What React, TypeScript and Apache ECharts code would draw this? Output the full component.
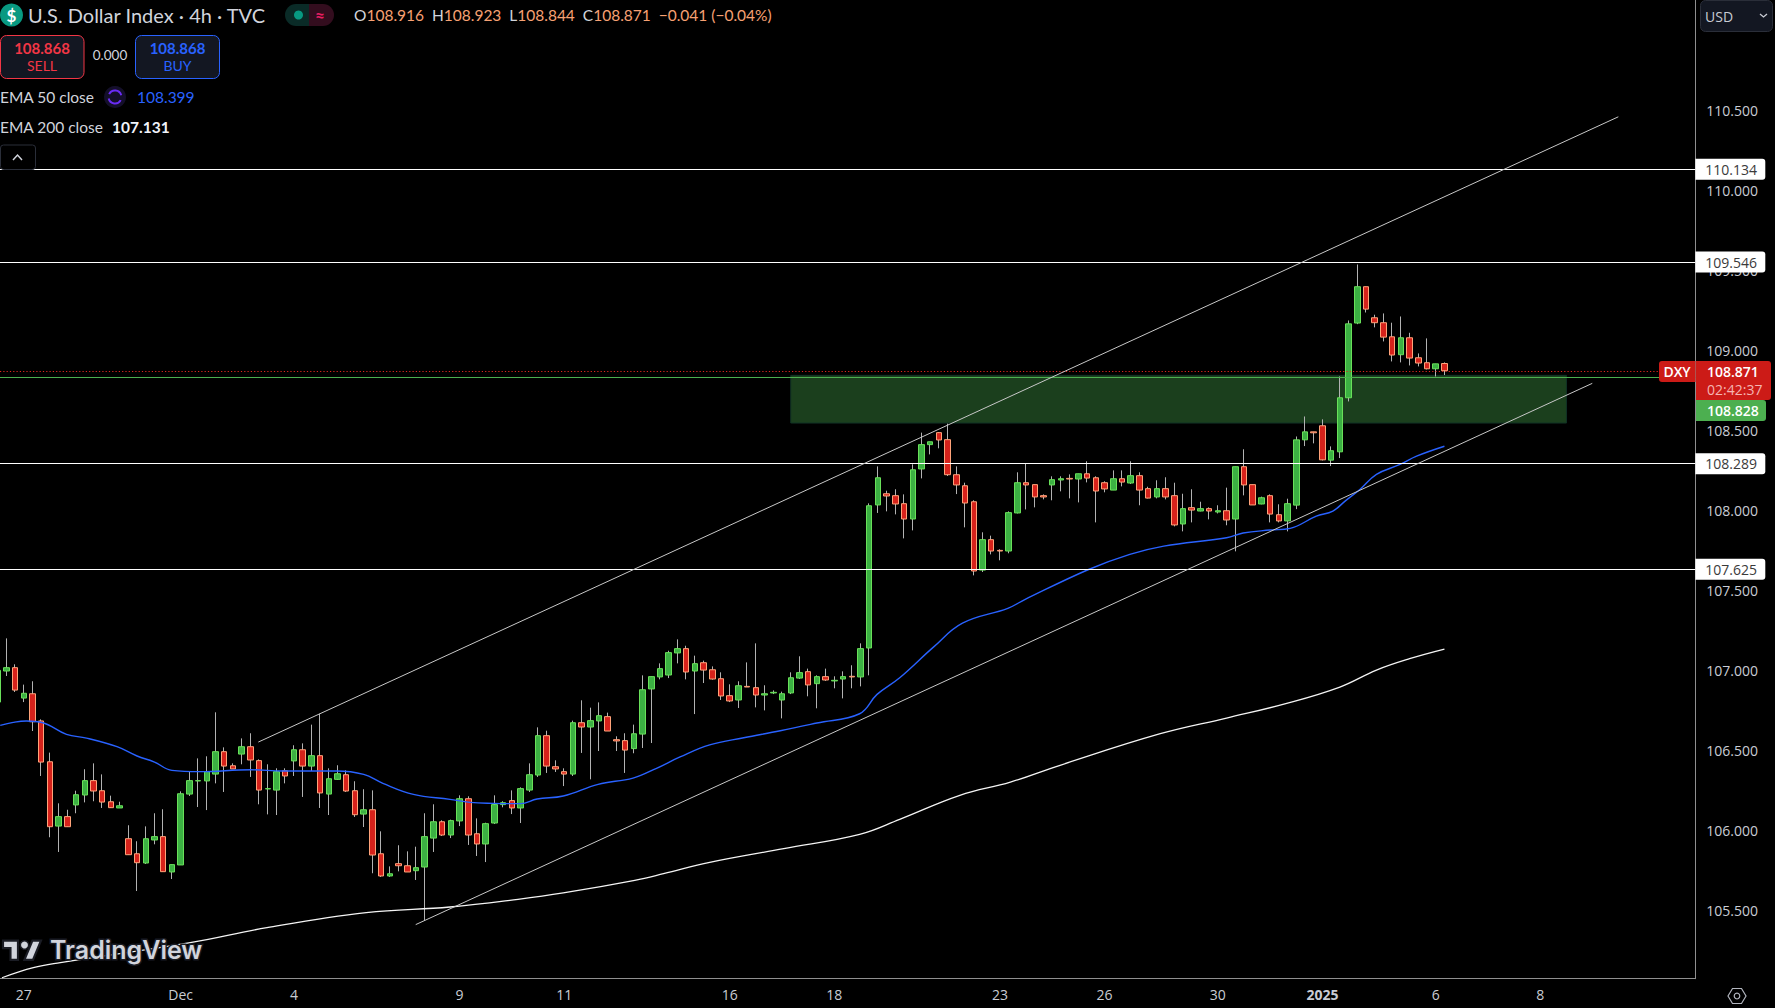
import React, { useEffect, useRef } from "react";
import * as echarts from "echarts";

const firstCandleIndex = -1;
const opens = [
  106.800,106.994,107.015,106.825,106.852,106.682,106.427,106.025,106.084,106.157,106.219,106.309,106.246,106.177,106.138,
  105.946,105.852,105.794,105.938,105.959,105.738,105.782,106.225,106.307,106.307,106.350,106.490,106.402,106.475,106.521,
  106.434,106.257,106.250,106.371,106.432,106.502,106.400,106.465,106.225,106.317,106.346,106.246,106.100,106.127,105.852,
  105.713,105.790,105.777,105.746,105.769,105.950,106.052,105.969,106.057,106.196,105.977,105.913,106.044,106.159,106.184,
  106.138,106.250,106.344,106.590,106.396,106.365,106.350,106.671,106.644,106.682,106.709,106.565,106.559,106.509,106.600,
  106.882,106.957,106.969,107.107,107.134,106.994,107.046,107.002,106.946,106.840,106.813,106.898,106.890,106.844,106.857,
  106.813,106.857,106.950,106.990,106.915,106.959,106.932,106.944,106.961,106.957,107.138,108.032,108.102,108.090,108.040,
  107.944,108.257,108.409,108.484,108.440,108.221,108.152,108.052,107.625,107.815,107.748,107.744,107.982,108.171,108.159,
  108.090,108.157,108.188,108.198,108.194,108.227,108.202,108.171,108.125,108.196,108.169,108.215,108.134,108.082,108.134,
  108.090,107.913,108.015,107.994,108.009,107.988,107.996,107.944,108.271,108.159,108.038,108.090,107.971,107.932,108.031,
  108.439,108.489,108.527,108.312,108.364,108.702,109.169,109.396,109.202,109.171,109.083,108.971,109.077,108.952,108.921,
  108.883,108.916,
];
const closes = [
  106.998,107.015,106.875,106.855,106.677,106.425,106.021,106.084,106.021,106.221,106.309,106.244,106.175,106.140,106.152,
  105.846,105.796,105.946,105.959,105.740,105.784,106.227,106.309,106.309,106.365,106.490,106.400,106.382,106.521,106.438,
  106.250,106.259,106.365,106.338,106.502,106.400,106.465,106.232,106.321,106.352,106.244,106.096,106.127,105.844,105.713,
  105.727,105.777,105.738,105.765,105.959,106.052,105.969,106.059,106.196,105.969,105.913,106.040,106.159,106.171,106.138,
  106.259,106.346,106.590,106.400,106.382,106.350,106.671,106.644,106.684,106.715,106.619,106.557,106.500,106.602,106.877,
  106.959,107.009,107.109,107.134,106.988,107.040,107.000,106.944,106.838,106.807,106.902,106.894,106.844,106.852,106.861,
  106.852,106.952,106.984,106.907,106.959,106.938,106.936,106.959,106.957,107.134,108.027,108.202,108.088,108.038,107.944,
  108.252,108.409,108.427,108.438,108.221,108.157,108.044,107.619,107.815,107.744,107.744,107.984,108.171,108.157,108.082,
  108.082,108.190,108.196,108.194,108.227,108.200,108.119,108.132,108.196,108.175,108.215,108.125,108.075,108.134,108.082,
  107.907,108.009,108.000,108.009,107.994,107.996,107.938,108.271,108.157,108.032,108.077,107.975,107.932,108.040,108.439,
  108.489,108.483,108.314,108.371,108.702,109.164,109.396,109.256,109.171,109.081,108.969,109.077,108.950,108.919,108.883,
  108.914,108.871,
];
const lows = [
  106.790,106.963,106.863,106.800,106.619,106.338,105.955,105.863,106.021,106.105,106.173,106.180,106.138,106.138,106.138,
  105.846,105.619,105.788,105.911,105.740,105.694,105.782,106.213,106.144,106.125,106.292,106.238,106.382,106.411,106.332,
  106.161,106.098,106.094,106.292,106.338,106.207,106.369,106.138,106.094,106.313,106.238,106.082,106.019,105.730,105.707,
  105.707,105.742,105.738,105.688,105.432,105.863,105.963,105.950,106.025,105.907,105.838,105.800,106.038,106.142,106.100,
  106.044,106.238,106.332,106.357,106.363,106.275,106.338,106.482,106.317,106.494,106.619,106.494,106.357,106.480,106.513,
  106.544,106.942,106.950,107.042,106.942,106.725,106.919,106.940,106.813,106.800,106.763,106.894,106.767,106.748,106.850,
  106.698,106.850,106.944,106.836,106.761,106.932,106.886,106.823,106.886,106.898,106.967,107.982,107.992,107.973,107.823,
  107.873,108.198,108.348,108.386,108.213,108.100,107.892,107.592,107.613,107.723,107.686,107.730,107.979,108.004,108.017,
  108.067,108.061,108.117,108.073,108.048,108.173,107.923,108.111,108.125,108.148,108.163,108.030,108.073,108.073,108.067,
  107.898,107.867,107.923,107.992,107.942,107.979,107.905,107.742,108.092,108.032,108.036,107.923,107.923,107.867,108.006,
  108.400,108.417,108.310,108.275,108.325,108.679,109.162,109.235,109.142,109.054,108.929,108.923,108.904,108.898,108.879,
  108.835,108.844,
];
const highs = [
  107.026,107.198,107.036,106.909,106.930,106.692,106.484,106.167,106.127,106.246,106.380,106.417,106.348,106.215,106.177,
  106.030,105.930,106.023,106.105,106.130,105.784,106.242,106.367,106.448,106.461,106.736,106.517,106.417,106.573,106.605,
  106.442,106.411,106.386,106.386,106.530,106.542,106.659,106.727,106.386,106.405,106.373,106.305,106.255,106.248,105.992,
  105.773,105.905,105.867,105.896,106.105,106.161,106.061,106.065,106.217,106.211,106.073,106.046,106.217,106.180,106.248,
  106.267,106.417,106.642,106.621,106.436,106.386,106.684,106.811,106.765,106.798,106.734,106.586,106.605,106.659,106.967,
  106.959,107.042,107.121,107.192,107.152,107.090,107.059,107.023,106.986,106.911,106.930,107.048,107.167,106.905,106.873,
  106.865,106.986,107.086,107.009,106.967,107.009,106.961,106.992,107.030,107.167,108.042,108.273,108.121,108.130,108.098,
  108.286,108.484,108.427,108.488,108.540,108.273,108.171,108.061,107.861,107.840,107.755,107.992,108.236,108.290,108.159,
  108.098,108.211,108.211,108.223,108.227,108.305,108.211,108.180,108.248,108.248,108.305,108.236,108.146,108.186,108.205,
  108.171,108.102,108.130,108.052,108.017,108.030,108.140,108.271,108.380,108.159,108.084,108.098,108.036,108.071,108.460,
  108.585,108.489,108.567,108.398,108.835,109.185,109.535,109.396,109.221,109.229,109.171,109.210,109.108,108.979,109.073,
  108.914,108.923,
];

const ema50Index = [-0.7,0.8,2.3,4.2,6.9,9.2,12.7,15,17,19,22.2,28,31.8,37.9,41,43.2,46.7,50.9,53.2,55.9,59,60.9,63.9,67.9,71.9,74.6,77.3,80.7,84.6,88.8,93,97.9,99.9,102.5,106.4,109.7,114.9,116.9,124.1,128.9,132.8,140,141.9,145,147.3,150.3,152.2,153.6,155.3,157.2,159.9,161.8,165];
const ema50Values = [106.654,106.673,106.682,106.671,106.598,106.575,106.521,106.463,106.425,106.373,106.365,106.377,106.369,106.369,106.348,106.292,106.223,106.192,106.173,106.167,106.165,106.194,106.213,106.286,106.325,106.386,106.457,106.532,106.577,106.621,106.669,106.727,106.848,106.952,107.145,107.293,107.386,107.442,107.627,107.723,107.775,107.827,107.857,107.875,107.886,107.962,107.994,108.056,108.129,108.223,108.285,108.337,108.399];

const ema200Index = [-0.5,3.1,6.2,21.1,29.9,41.3,50.9,58.7,63.9,72.1,75.4,80.7,89.2,97.9,102.5,109.4,115.2,120.9,132.4,140,146.9,153,157.2,161,165];
const ema200Values = [105.077,105.140,105.171,105.296,105.390,105.484,105.519,105.567,105.607,105.686,105.727,105.798,105.884,105.973,106.067,106.217,106.300,106.405,106.602,106.700,106.792,106.894,107.000,107.071,107.131];

const channelUpper = [[28.91,106.55],[184.95,110.458]];
const channelLower = [[46.97,105.409],[181.96,108.792]];
const levelPrices = [110.134,109.546,108.289,107.625];
const supportPrice = 108.828;
const lastPrice = 108.871;
const zoneCorners = [[90,108.842],[179,108.544]];

const priceTicks = [105.5,106,106.5,107,107.5,108,108.5,109,109.5,110,110.5];
const timeTickIndex = [2,20,33,52,64,83,95,114,126,139,151,164,176];
const timeTickLabels = ["27","Dec","4","9","11","16","18","23","26","30","2025","6","8"];

const titleText = "U.S. Dollar Index · 4h · TVC";
const ohlcParts = [["O","108.916"],["H","108.923"],["L","108.844"],["C","108.871"]];
const ohlcChange = "−0.041 (−0.04%)";
const bidText = "108.868";
const spreadText = "0.000";

const F = "'Lato', sans-serif";
const AXF = "'Open Sans', sans-serif";
const AX = "#c9ccd4";

function txt(x: number, y: number, text: string, fontSize: number, fill: string, extra: any = {}) {
  return { type: "text", x, y, z: 100, silent: true, style: { text, fontSize, fill, fontFamily: F, textVerticalAlign: "middle", textAlign: "left", ...extra } };
}
function box(x: number, y: number, width: number, height: number, fill: string, stroke?: string, r: any = 0) {
  return { type: "rect", z: 99, silent: true, shape: { x, y, width, height, r }, style: { fill, stroke: stroke || undefined, lineWidth: stroke ? 1 : 0 } };
}

export default function App() {
  const ref = useRef<HTMLDivElement>(null);
  useEffect(() => {
    document.body.style.margin = "0";
    document.body.style.background = "#000";
    echarts.graphic.registerShape("tvBar", echarts.graphic.extendPath("M14 22H7V11H0V4h14v18zM28 22h-8l7.5-18h8L28 22z", {}) as any);
    const chart = echarts.init(ref.current!, undefined, { renderer: "svg" });
    const wickData = opens.map((o, i) => [i + firstCandleIndex, o, closes[i], lows[i], highs[i]]);
    const bodyData = opens.map((o, i) => [i + firstCandleIndex, o, closes[i], Math.min(o, closes[i]), Math.max(o, closes[i])]);
    const lineSeries = (data: number[][], color: string, width: number, z: number, smooth: number | boolean = false) => ({
      type: "line", data, symbol: "none", showSymbol: false, silent: true, z, clip: true, smooth,
      lineStyle: { color, width }, emphasis: { disabled: true },
    });
    const ohlcRich = ohlcParts.map(([k, v]) => `{k|${k}}{v|${v}} `).join(" ") + ` {v|${ohlcChange}}`;
    const graphics: any[] = [
      { type: "circle", z: 99, silent: true, shape: { cx: 11.5, cy: 15, r: 11.5 }, style: { fill: "#089981" } },
      txt(11.5, 15, "$", 17, "#ffffff", { textAlign: "center", fontWeight: 700 }),
      txt(28, 15, titleText, 20, "#d1d4dc"),
      { type: "rect", z: 99, silent: true, shape: { x: 285, y: 4, width: 25, height: 22, r: [11, 0, 0, 11] }, style: { fill: "#0a2b27" } },
      { type: "rect", z: 99, silent: true, shape: { x: 309, y: 4, width: 25, height: 22, r: [0, 11, 11, 0] }, style: { fill: "#330d1e" } },
      { type: "circle", z: 100, silent: true, shape: { cx: 298.5, cy: 15, r: 4.5 }, style: { fill: "#089981" } },
      txt(320, 15, "≈", 17, "#e91e63", { textAlign: "center", fontWeight: 700 }),
      { type: "text", x: 354, y: 15, z: 100, silent: true, style: { text: ohlcRich, fontFamily: F, fontSize: 15.5, textVerticalAlign: "middle", rich: { k: { fill: "#d1d4dc", fontSize: 15.5, fontFamily: F }, v: { fill: "#f7a173", fontSize: 15.5, fontFamily: F } } } },
      box(0.5, 35.5, 83.5, 43, "#131722", "#f23645", 6),
      txt(42, 48, bidText, 15, "#f23645", { textAlign: "center", fontWeight: 700 }),
      txt(42, 65, "SELL", 14, "#f23645", { textAlign: "center" }),
      txt(110, 55, spreadText, 13.5, "#d1d4dc", { textAlign: "center" }),
      box(135.5, 35.5, 84, 43, "#131722", "#2962ff", 6),
      txt(177.5, 48, bidText, 15, "#2962ff", { textAlign: "center", fontWeight: 700 }),
      txt(177.5, 65, "BUY", 14, "#2962ff", { textAlign: "center" }),
      txt(0, 97, "EMA 50 close", 15.5, "#d1d4dc"),
      { type: "circle", z: 99, silent: true, shape: { cx: 115, cy: 97, r: 11 }, style: { fill: "#140f2a" } },
      { type: "arc", z: 100, silent: true, shape: { cx: 115, cy: 97, r: 6.5, startAngle: 3.6, endAngle: 6.0 }, style: { stroke: "#6a2cf5", lineWidth: 2, fill: "none" } },
      { type: "arc", z: 100, silent: true, shape: { cx: 115, cy: 97, r: 6.5, startAngle: 0.5, endAngle: 2.9 }, style: { stroke: "#6a2cf5", lineWidth: 2, fill: "none" } },
      txt(137, 97, "108.399", 15.5, "#2962ff"),
      txt(0, 126.5, "EMA 200 close", 15.5, "#d1d4dc"),
      txt(112, 126.5, "107.131", 15.5, "#f0f3fa", { fontWeight: 700 }),
      box(0.5, 145, 35, 24.5, "#000000", "#2a2e39", 3),
      { type: "polyline", z: 100, silent: true, shape: { points: [[13, 160], [17.5, 155], [22, 160]] }, style: { stroke: "#d1d4dc", lineWidth: 1.5, fill: "none" } },
      { type: "tvBar", z: 100, silent: true, x: 3, y: 936.4, scaleX: 1.07, scaleY: 1.07, style: { fill: "#d1d4dc", stroke: "#1a1c24", lineWidth: 2 } },
      { type: "circle", z: 100, silent: true, shape: { cx: 24.5, cy: 945, r: 4.2 }, style: { fill: "#d1d4dc", stroke: "#1a1c24", lineWidth: 1.5 } },
      txt(50, 949.5, "TradingView", 25, "#d1d4dc", { fontFamily: "'Inter', sans-serif", fontWeight: 600, stroke: "#1a1c24", lineWidth: 3 }),
      box(1700.5, 0.5, 72, 31, "#131722", "#2a2e39", 5),
      txt(1705, 16, "USD", 14, "#c9ccd4", { fontFamily: AXF }),
      { type: "polyline", z: 100, silent: true, shape: { points: [[1760, 14], [1763.5, 17], [1767, 14]] }, style: { stroke: "#c9ccd4", lineWidth: 1.3, fill: "none" } },
      { type: "rect", z: 99, silent: true, shape: { x: 1659, y: 361, width: 36.5, height: 21, r: [3, 0, 0, 3] }, style: { fill: "#cc1b17" } },
      txt(1677, 371.5, "DXY", 14, "#ffffff", { textAlign: "center", fontFamily: AXF, fontWeight: 600 }),
      { type: "rect", z: 99, silent: true, shape: { x: 1696, y: 361, width: 75, height: 39, r: [0, 3, 3, 0] }, style: { fill: "#cc1b17" } },
      txt(1707, 371.5, lastPrice.toFixed(3), 14, "#ffffff", { fontFamily: AXF, fontWeight: 600 }),
      txt(1707, 389, "02:42:37", 14, "#f5b5b2", { fontFamily: AXF }),
      { type: "rect", z: 99, silent: true, shape: { x: 1696, y: 400, width: 70, height: 21, r: [0, 3, 3, 0] }, style: { fill: "#4caf50" } },
      txt(1707, 410, supportPrice.toFixed(3), 14, "#ffffff", { fontFamily: AXF, fontWeight: 600 }),
      { type: "polygon", z: 100, silent: true, shape: { points: [[1728, 996], [1732.5, 988.5], [1741.5, 988.5], [1746, 996], [1741.5, 1003.5], [1732.5, 1003.5]] }, style: { fill: "none", stroke: "#b2b5be", lineWidth: 1.2 } },
      { type: "circle", z: 100, silent: true, shape: { cx: 1737, cy: 996, r: 2.8 }, style: { fill: "none", stroke: "#b2b5be", lineWidth: 1.2 } },
    ];
    chart.setOption({
      animation: false,
      backgroundColor: "#000000",
      tooltip: { show: false },
      grid: { left: 0, top: 0, width: 1695.3, height: 978.7, containLabel: false, show: false },
      xAxis: {
        type: "value", min: -0.726, max: 193.78, splitLine: { show: false },
        axisLine: { show: true, onZero: false, lineStyle: { color: "#8f8f8f", width: 1 } },
        axisTick: { show: false },
        axisLabel: {
          customValues: timeTickIndex, color: AX, fontSize: 14, fontFamily: AXF, margin: 9, hideOverlap: false,
          formatter: (v: number) => {
            const s = timeTickLabels[timeTickIndex.indexOf(v)] ?? "";
            return s === "2025" ? `{b|${s}}` : s;
          },
          rich: { b: { fontWeight: 700, color: AX, fontSize: 14, fontFamily: AXF } },
        },
      },
      yAxis: {
        type: "value", position: "right", min: 105.071, max: 111.188, scale: true, splitLine: { show: false },
        axisLine: { show: true, onZero: false, lineStyle: { color: "#8f8f8f", width: 1 } },
        axisTick: { show: false },
        axisLabel: { customValues: priceTicks, color: AX, fontSize: 14, fontFamily: AXF, margin: 11, formatter: (v: number) => v.toFixed(3) },
      },
      series: [
        { type: "candlestick", name: "wicks", data: wickData, barWidth: 1, z: 2, silent: true, clip: true,
          itemStyle: { color: "#b2b2b2", color0: "#b2b2b2", borderColor: "#b2b2b2", borderColor0: "#b2b2b2", borderColorDoji: "#b2b2b2", borderWidth: 1 } },
        { type: "candlestick", name: "DXY", data: bodyData, barWidth: 6, z: 3, silent: true, clip: true,
          itemStyle: { color: "#3cb043", color0: "#d6221b", borderColor: "#69e05a", borderColor0: "#ffa37a", borderColorDoji: "#ffa37a", borderWidth: 1 } },
        { ...lineSeries(ema50Index.map((x, i) => [x, ema50Values[i]]), "#2962ff", 1.4, 4, 0.4), name: "EMA 50" },
        { ...lineSeries(ema200Index.map((x, i) => [x, ema200Values[i]]), "#f4f4f4", 1.3, 4, 0.4), name: "EMA 200" },
        { ...lineSeries(channelUpper, "#c8c8c8", 1, 5), name: "Channel upper" },
        { ...lineSeries(channelLower, "#c8c8c8", 1, 5), name: "Channel lower" },
        {
          type: "line", name: "Levels", data: [], z: 6, silent: true,
          markArea: {
            silent: true,
            itemStyle: { color: "rgba(76,175,80,0.36)", borderColor: "#113226", borderWidth: 1 },
            data: [[{ coord: zoneCorners[0] }, { coord: zoneCorners[1] }]],
          },
          markLine: {
            silent: true, symbol: "none", animation: false,
            data: [
              ...levelPrices.map((p) => ({
                yAxis: p,
                lineStyle: { color: "#ffffff", width: 1, type: "solid" },
                label: {
                  show: true, position: "end", distance: 0, formatter: p.toFixed(3),
                  backgroundColor: "#ffffff", color: "#3a3a3a", fontSize: 14, fontFamily: AXF,
                  width: 60, lineHeight: 14, padding: [3.5, 0, 3.5, 10], align: "left", borderRadius: [0, 3, 3, 0],
                },
              })),
              { yAxis: supportPrice, lineStyle: { color: "#4caf50", width: 1, type: "solid" }, label: { show: false } },
              { yAxis: lastPrice, lineStyle: { color: "#e0261f", width: 1.2, type: [1.2, 2.1] }, label: { show: false } },
            ],
          },
        },
      ],
      graphic: { elements: graphics },
    });
    return () => chart.dispose();
  }, []);
  return <div ref={ref} style={{ position: "fixed", left: 0, top: 0, width: 1775, height: 1008, background: "#000" }} />;
}
